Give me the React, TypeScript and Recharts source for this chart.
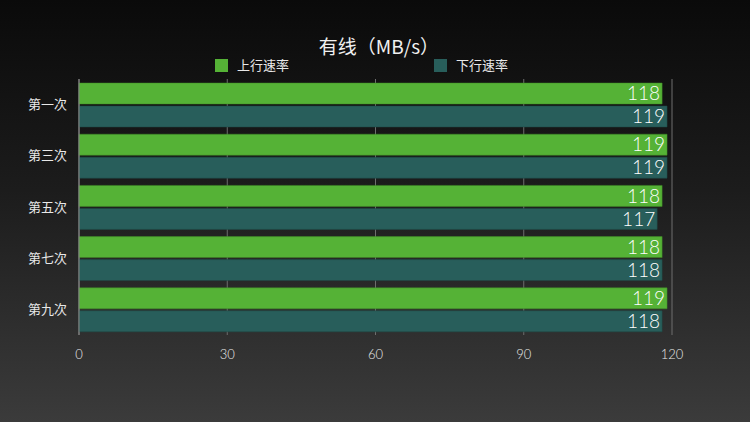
import React from 'react';
import { BarChart, Bar, XAxis, YAxis, CartesianGrid, LabelList } from 'recharts';

const categories = ['第一次', '第三次', '第五次', '第七次', '第九次'];
const upload = [118, 119, 118, 118, 119];
const download = [119, 119, 117, 118, 118];
const xTicks = [0, 30, 60, 90, 120];
const title = '有线（MB/s）';
const seriesNames = ['上行速率', '下行速率'];

const data = categories.map((c, i) => ({ name: c, up: upload[i], down: download[i] }));

const GREEN = '#55b236';
const TEAL = '#285e5b';
const seriesColors = [GREEN, TEAL];
const CJK = '"Noto Sans CJK SC", "Noto Sans", sans-serif';
const NUM = 'Lato, sans-serif';

const legendLefts = [215, 434];

export default function App() {
  return (
    <div
      style={{
        position: 'absolute',
        left: 0,
        top: 0,
        width: 750,
        height: 422,
        background: 'linear-gradient(to bottom, #0a0a0a 0%, #1c1c1c 45%, #3b3b3b 100%)',
        overflow: 'hidden',
      }}
    >
      <div
        style={{
          position: 'absolute',
          left: 0,
          top: 34,
          width: 758,
          textAlign: 'center',
          color: '#f0f0f0',
          fontSize: 19,
          fontFamily: CJK,
          lineHeight: '24px',
        }}
      >
        {title}
      </div>
      {seriesNames.map((name, i) => (
        <div
          key={name}
          style={{
            position: 'absolute',
            left: legendLefts[i],
            top: 58,
            display: 'flex',
            alignItems: 'center',
            height: 14,
          }}
        >
          <div style={{ width: 13, height: 13, background: seriesColors[i], marginRight: 9 }} />
          <span style={{ color: '#e8e8e8', fontSize: 13, fontFamily: CJK, lineHeight: '14px' }}>{name}</span>
        </div>
      ))}
      <BarChart
        width={750}
        height={422}
        data={data}
        layout="vertical"
        margin={{ top: 79, right: 78, bottom: 57, left: 0 }}
        barCategoryGap={4}
        barGap={2}
        style={{ position: 'absolute', left: 0, top: 0 }}
      >
        <CartesianGrid horizontal={false} stroke="#6e6e6e" strokeWidth={1} />
        <XAxis
          type="number"
          domain={[0, 120]}
          ticks={xTicks}
          axisLine={false}
          tickLine={false}
          tickMargin={9}
          height={30}
          tick={{ fill: '#e8e8e8', fontSize: 13, fontFamily: NUM, fontWeight: 300 }}
        />
        <YAxis
          type="category"
          dataKey="name"
          width={79}
          axisLine={{ stroke: '#8a8a8a' }}
          tickLine={false}
          tickSize={0}
          tickMargin={12}
          tick={{ fill: '#e8e8e8', fontSize: 13, fontFamily: CJK }}
        />
        <Bar dataKey="up" name={seriesNames[0]} fill={GREEN} stroke="#3f8a27" strokeWidth={0.5} isAnimationActive={false}>
          <LabelList
            dataKey="up"
            position="insideRight"
            offset={2}
            fill="#ffffff"
            style={{ fontSize: 19, fontFamily: NUM, fontWeight: 300 }}
          />
        </Bar>
        <Bar dataKey="down" name={seriesNames[1]} fill={TEAL} stroke="#1f4a47" strokeWidth={0.5} isAnimationActive={false}>
          <LabelList
            dataKey="down"
            position="insideRight"
            offset={2}
            fill="#ffffff"
            style={{ fontSize: 19, fontFamily: NUM, fontWeight: 300 }}
          />
        </Bar>
      </BarChart>
    </div>
  );
}
